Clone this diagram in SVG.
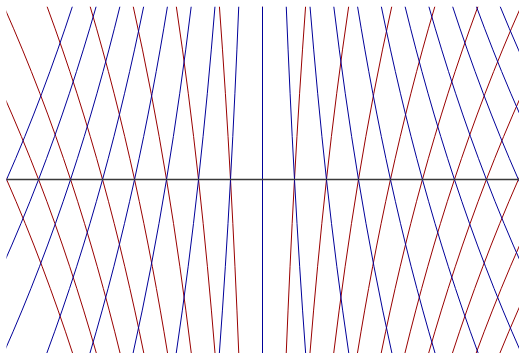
<svg xmlns="http://www.w3.org/2000/svg" width="519" height="353" viewBox="0 0 519 353">
<style>
.r{fill:none;stroke:#990000;stroke-width:1}
.b{fill:none;stroke:#000099;stroke-width:1}
.ax{fill:none;stroke:#3a3a3a;stroke-width:1.5}
</style>
<defs><clipPath id="box"><rect x="6.5" y="6.5" width="513" height="347"/></clipPath></defs>
<rect width="519" height="353" fill="#ffffff"/>
<g id="red-lines" clip-path="url(#box)">
<path class="r" d="M-82.22,6.5 C-13.64,122.167 34.96,237.833 72.71,353.5"/>
<path class="r" d="M-39.13,6.5 C20.88,122.167 63.40,237.833 96.44,353.5"/>
<path class="r" d="M3.96,6.5 C55.39,122.167 91.84,237.833 120.16,353.5"/>
<path class="r" d="M47.05,6.5 C89.91,122.167 120.29,237.833 143.88,353.5"/>
<path class="r" d="M90.14,6.5 C124.43,122.167 148.73,237.833 167.61,353.5"/>
<path class="r" d="M133.23,6.5 C158.95,122.167 177.17,237.833 191.33,353.5"/>
<path class="r" d="M176.32,6.5 C193.46,122.167 205.61,237.833 215.05,353.5"/>
<path class="r" d="M219.41,6.5 C227.98,122.167 234.06,237.833 238.78,353.5"/>
<path class="r" d="M262.5,6.5 L262.5,353.5"/>
<path class="r" d="M305.59,6.5 C297.02,122.167 290.94,237.833 286.22,353.5"/>
<path class="r" d="M348.68,6.5 C331.54,122.167 319.39,237.833 309.95,353.5"/>
<path class="r" d="M391.77,6.5 C366.05,122.167 347.83,237.833 333.67,353.5"/>
<path class="r" d="M434.86,6.5 C400.57,122.167 376.27,237.833 357.39,353.5"/>
<path class="r" d="M477.95,6.5 C435.09,122.167 404.71,237.833 381.12,353.5"/>
<path class="r" d="M521.04,6.5 C469.61,122.167 433.16,237.833 404.84,353.5"/>
<path class="r" d="M564.13,6.5 C504.12,122.167 461.60,237.833 428.56,353.5"/>
<path class="r" d="M607.22,6.5 C538.64,122.167 490.04,237.833 452.29,353.5"/>
<path class="r" d="M650.32,6.5 C573.16,122.167 518.49,237.833 476.01,353.5"/>
<path class="r" d="M693.41,6.5 C607.68,122.167 546.93,237.833 499.73,353.5"/>
</g>
<g id="blue-lines" clip-path="url(#box)">
<path class="b" d="M72.38,6.5 C34.56,122.167 -14.12,237.833 -82.82,353.5"/>
<path class="b" d="M96.15,6.5 C63.06,122.167 20.46,237.833 -39.65,353.5"/>
<path class="b" d="M119.91,6.5 C91.55,122.167 55.04,237.833 3.51,353.5"/>
<path class="b" d="M143.68,6.5 C120.04,122.167 89.61,237.833 46.68,353.5"/>
<path class="b" d="M167.44,6.5 C148.53,122.167 124.19,237.833 89.84,353.5"/>
<path class="b" d="M191.21,6.5 C177.02,122.167 158.77,237.833 133.01,353.5"/>
<path class="b" d="M214.97,6.5 C205.52,122.167 193.35,237.833 176.17,353.5"/>
<path class="b" d="M238.74,6.5 C234.01,122.167 227.92,237.833 219.34,353.5"/>
<path class="b" d="M262.5,6.5 L262.5,353.5"/>
<path class="b" d="M286.26,6.5 C290.99,122.167 297.08,237.833 305.66,353.5"/>
<path class="b" d="M310.03,6.5 C319.48,122.167 331.65,237.833 348.83,353.5"/>
<path class="b" d="M333.79,6.5 C347.98,122.167 366.23,237.833 391.99,353.5"/>
<path class="b" d="M357.56,6.5 C376.47,122.167 400.81,237.833 435.16,353.5"/>
<path class="b" d="M381.32,6.5 C404.96,122.167 435.39,237.833 478.32,353.5"/>
<path class="b" d="M405.09,6.5 C433.45,122.167 469.96,237.833 521.49,353.5"/>
<path class="b" d="M428.85,6.5 C461.94,122.167 504.54,237.833 564.65,353.5"/>
<path class="b" d="M452.62,6.5 C490.44,122.167 539.12,237.833 607.82,353.5"/>
<path class="b" d="M476.38,6.5 C518.93,122.167 573.70,237.833 650.98,353.5"/>
<path class="b" d="M500.15,6.5 C547.42,122.167 608.27,237.833 694.15,353.5"/>
</g>
<g id="axis">
<line class="ax" x1="6.5" y1="179.5" x2="519" y2="179.5"/>
</g>
</svg>
